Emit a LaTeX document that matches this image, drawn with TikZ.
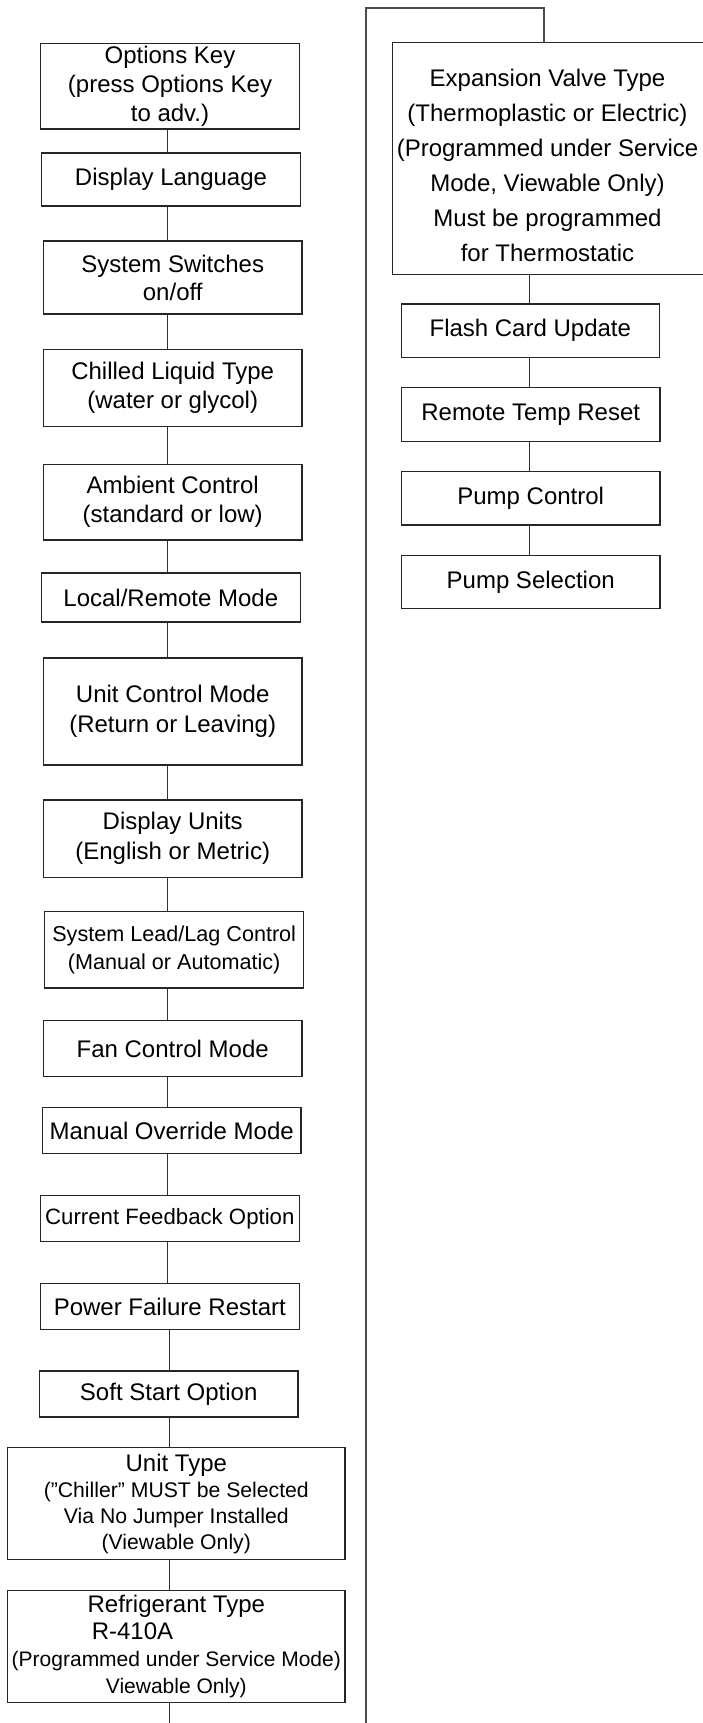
\documentclass[tikz,border=0pt]{standalone}
\usepackage{fontspec}
\setmainfont{Liberation Sans}
\usepackage{tikz}

\begin{document}
\begin{tikzpicture}[x=0.5pt, y=-0.5pt,
    box/.style={draw=black!85, line width=0.65pt, inner sep=0pt, align=center, font=\fontsize{12}{14.5}\selectfont},
    link/.style={draw=black!80, line width=0.5pt},
    backline/.style={draw=black!70, line width=1pt}]
        \useasboundingbox (0,0) rectangle (702,1723);
        % Left column
        \node[box, minimum width=129.3pt, minimum height=42.65pt] (opt) at (170,86.4) {Options Key\\(press Options Key\\to adv.)};
        \node[box, minimum width=129.3pt, minimum height=26.5pt] (lang) at (171,179.5) {Display Language};
        \node[box, minimum width=129.35pt, minimum height=36.5pt, font=\fontsize{12}{14}\selectfont] (sw) at (172.7,277.5) {System Switches\\on/off};
        \node[box, minimum width=129.35pt, minimum height=38.5pt] (liq) at (172.7,388.2) {Chilled Liquid Type\\(water or glycol)};
        \node[box, minimum width=129.35pt, minimum height=37.85pt] (amb) at (172.7,502.2) {Ambient Control\\(standard or low)};
        \node[box, minimum width=129.5pt, minimum height=24.5pt] (loc) at (170.8,597.5) {Local/Remote Mode};
        \node[box, minimum width=129.35pt, minimum height=53.5pt, font=\fontsize{12}{15}\selectfont] (ucm) at (172.7,711.5) {Unit Control Mode\\(Return or Leaving)};
        \node[box, minimum width=129.35pt, minimum height=38.65pt, font=\fontsize{12}{15}\selectfont] (du) at (172.7,838.7) {Display Units\\(English or Metric)};
        \node[box, minimum width=129.5pt, minimum height=38.35pt, font=\fontsize{10.8}{14}\selectfont] (lag) at (174.2,949.7) {System Lead/Lag Control\\(Manual or Automatic)};
        \node[box, minimum width=129.35pt, minimum height=27.8pt] (fan) at (172.7,1048.5) {Fan Control Mode};
        \node[box, minimum width=129.35pt, minimum height=23pt] (man) at (171.7,1130.7) {Manual Override Mode};
        \node[box, minimum width=129.5pt, minimum height=23pt, font=\fontsize{11.1}{14}\selectfont] (cur) at (169.8,1218.7) {Current Feedback Option};
        \node[box, minimum width=129.5pt, minimum height=23pt] (pwr) at (169.8,1306.7) {Power Failure Restart};
        \node[box, minimum width=129.35pt, minimum height=23pt] (soft) at (168.7,1394) {Soft Start Option};
        \node[box, minimum width=168.65pt, minimum height=56pt, font=\fontsize{10.6}{13}\selectfont] (utype) at (176.3,1503.7)
            {{\fontsize{12}{13}\selectfont Unit Type}\\(”Chiller” MUST be Selected\\Via No Jumper Installed\\(Viewable Only)};
        \node[box, minimum width=168.65pt, minimum height=56pt, font=\fontsize{10.5}{13.5}\selectfont] (refr) at (176.3,1646.3)
            {{\fontsize{12}{13.5}\selectfont Refrigerant Type}\\{\fontsize{12}{13.5}\selectfont R-410A\rule{43.8pt}{0pt}}\\(Programmed under Service Mode)\\Viewable Only)};
        % Right column
        \node[box, draw=none, minimum width=154.2pt, minimum height=115.35pt, font=\fontsize{12}{17.5}\selectfont] (exp) at (547.5,158.7)
            {\rule{0pt}{15pt}Expansion Valve Type\\(Thermoplastic or Electric)\\(Programmed under Service\\Mode, Viewable Only)\\Must be programmed\\for Thermostatic};
        \draw[draw=black!85, line width=0.65pt] ([xshift=8pt]exp.north east) -- (exp.north west) -- (exp.south west) -- ([xshift=8pt]exp.south east);
        \node[box, minimum width=129pt, minimum height=26.65pt] (flash) at (530.3,330.7) {Flash Card Update};
        \node[box, minimum width=129.35pt, minimum height=26.8pt] (rtr) at (530.7,414.5) {Remote Temp Reset};
        \node[box, minimum width=129.35pt, minimum height=26.85pt] (pc) at (530.7,498.2) {Pump Control};
        \node[box, minimum width=129.35pt, minimum height=26.7pt] (ps) at (530.7,582) {Pump Selection};
        % Connectors
        \coordinate (lspine) at (167,0);
        \coordinate (lspine2) at (169,0);
        \coordinate (rspine) at (529,0);
        \draw[link] (opt.south -| lspine) -- (lang.north -| lspine);
        \draw[link] (lang.south -| lspine) -- (sw.north -| lspine);
        \draw[link] (sw.south -| lspine) -- (liq.north -| lspine);
        \draw[link] (liq.south -| lspine) -- (amb.north -| lspine);
        \draw[link] (amb.south -| lspine) -- (loc.north -| lspine);
        \draw[link] (loc.south -| lspine) -- (ucm.north -| lspine);
        \draw[link] (ucm.south -| lspine) -- (du.north -| lspine);
        \draw[link] (du.south -| lspine) -- (lag.north -| lspine);
        \draw[link] (lag.south -| lspine) -- (fan.north -| lspine);
        \draw[link] (fan.south -| lspine) -- (man.north -| lspine);
        \draw[link] (man.south -| lspine) -- (cur.north -| lspine);
        \draw[link] (cur.south -| lspine) -- (pwr.north -| lspine);
        \draw[link] (pwr.south -| lspine2) -- (soft.north -| lspine2);
        \draw[link] (soft.south -| lspine2) -- (utype.north -| lspine2);
        \draw[link] (utype.south -| lspine2) -- (refr.north -| lspine2);
        \draw[link] (exp.south -| rspine) -- (flash.north -| rspine);
        \draw[link] (flash.south -| rspine) -- (rtr.north -| rspine);
        \draw[link] (rtr.south -| rspine) -- (pc.north -| rspine);
        \draw[link] (pc.south -| rspine) -- (ps.north -| rspine);
        % Return path to the second column
        \coordinate (lbot) at (169,1740);
        \coordinate (rbot) at (366,1740);
        \coordinate (rleft) at (366,8);
        \coordinate (rtop) at (544.3,8);
        \draw[link] (refr.south -| lbot) -- (lbot);
        \draw[backline] (rbot) -- (rleft) -- (rtop) -- (rtop |- exp.north);
      \end{tikzpicture}
\end{document}
